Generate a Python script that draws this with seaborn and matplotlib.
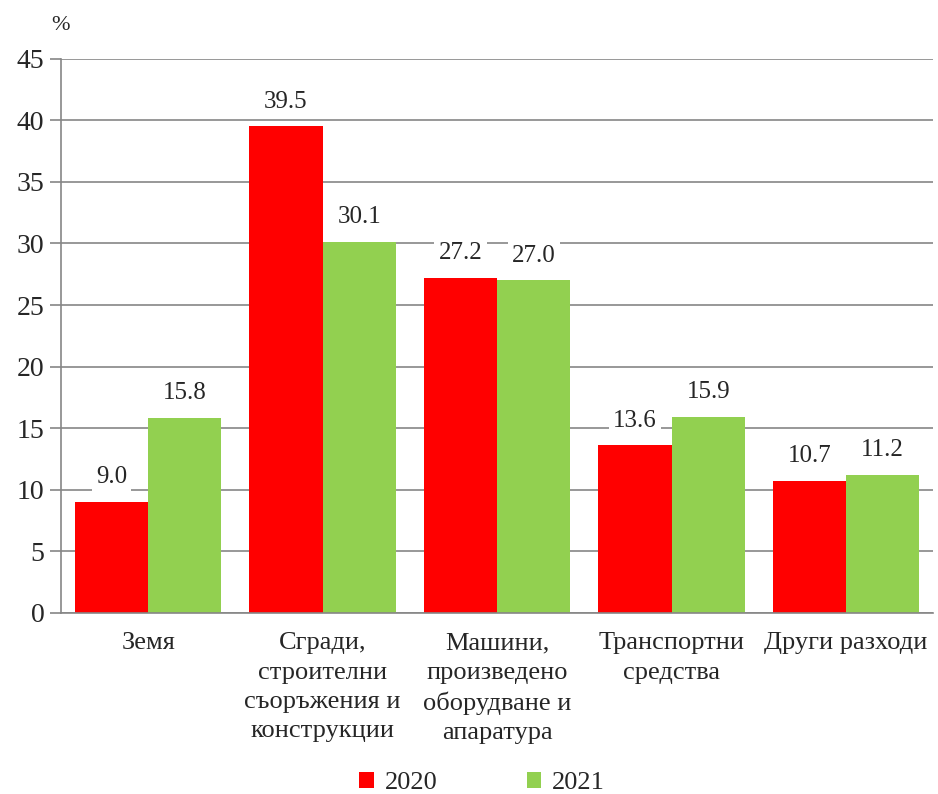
import pandas as pd
import matplotlib.pyplot as plt
import seaborn as sns
from matplotlib.patches import Patch

categories = ['Земя', 'Сгради,\nстроителни\nсъоръжения и\nконструкции',
              'Машини,\nпроизведено\nоборудване и\nапаратура',
              'Транспортни\nсредства', 'Други разходи']
values_2020 = [9.0, 39.5, 27.2, 13.6, 10.7]
values_2021 = [15.8, 30.1, 27.0, 15.9, 11.2]
years = ['2020', '2021']
colors = ['#ff0000', '#92d050']

df = pd.DataFrame({
    'Категория': categories * 2,
    'Година': [years[0]] * 5 + [years[1]] * 5,
    'Стойност': values_2020 + values_2021,
})

sns.set_style('white')
plt.rcParams['font.family'] = 'serif'
plt.rcParams['font.serif'] = ['Liberation Serif', 'DejaVu Serif']

fig = plt.figure(figsize=(9.38, 7.94), dpi=100)
ax = fig.add_axes([0.065, 0.228, 0.93, 0.698])

sns.barplot(data=df, x='Категория', y='Стойност', hue='Година',
            palette=colors, width=0.84, saturation=1, ax=ax, legend=False,
            linewidth=0)

for cont in ax.containers:
    ax.bar_label(cont, fmt='%.1f', padding=10, fontsize=18, family='Liberation Serif',
                 bbox=dict(facecolor='white', edgecolor='none', pad=3))

grid_col = '#868686'
ax.set_ylim(0, 45)
ax.set_xlim(-0.5, 4.5)
ax.yaxis.grid(True, color=grid_col, linewidth=1.2)
ax.set_axisbelow(True)
for s in ['top', 'right']:
    ax.spines[s].set_visible(False)
for s in ['left', 'bottom']:
    ax.spines[s].set_color(grid_col)
    ax.spines[s].set_linewidth(1.2)

ax.set_xticks(range(5))
ax.set_xticklabels(categories, fontsize=19, linespacing=1.42, family='Liberation Serif')
ax.set_yticks(range(0, 46, 5))
ax.set_yticklabels([str(v) for v in range(0, 46, 5)], fontsize=20, family='Liberation Serif')
ax.set_xticks([-0.5, 0.5, 1.5, 2.5, 3.5, 4.5], minor=True)
ax.tick_params(axis='x', which='major', length=0, pad=14)
ax.tick_params(axis='x', which='minor', length=8, color=grid_col, width=1.2)
ax.tick_params(axis='y', length=8, color=grid_col, width=1.2, left=True, pad=4)
ax.set_xlabel('')
ax.set_ylabel('')

fig.text(0.055, 0.962, '%', fontsize=16, family='Liberation Serif')

handles = [Patch(facecolor=c, edgecolor='none') for c in colors]
fig.legend(handles, years, loc='lower center', bbox_to_anchor=(0.514, -0.03), ncol=2,
           frameon=False, prop={'family': 'Liberation Serif', 'size': 19},
           handlelength=0.55, handleheight=0.55, handletextpad=0.4, columnspacing=3.4)

plt.savefig('out.png', dpi=100)
